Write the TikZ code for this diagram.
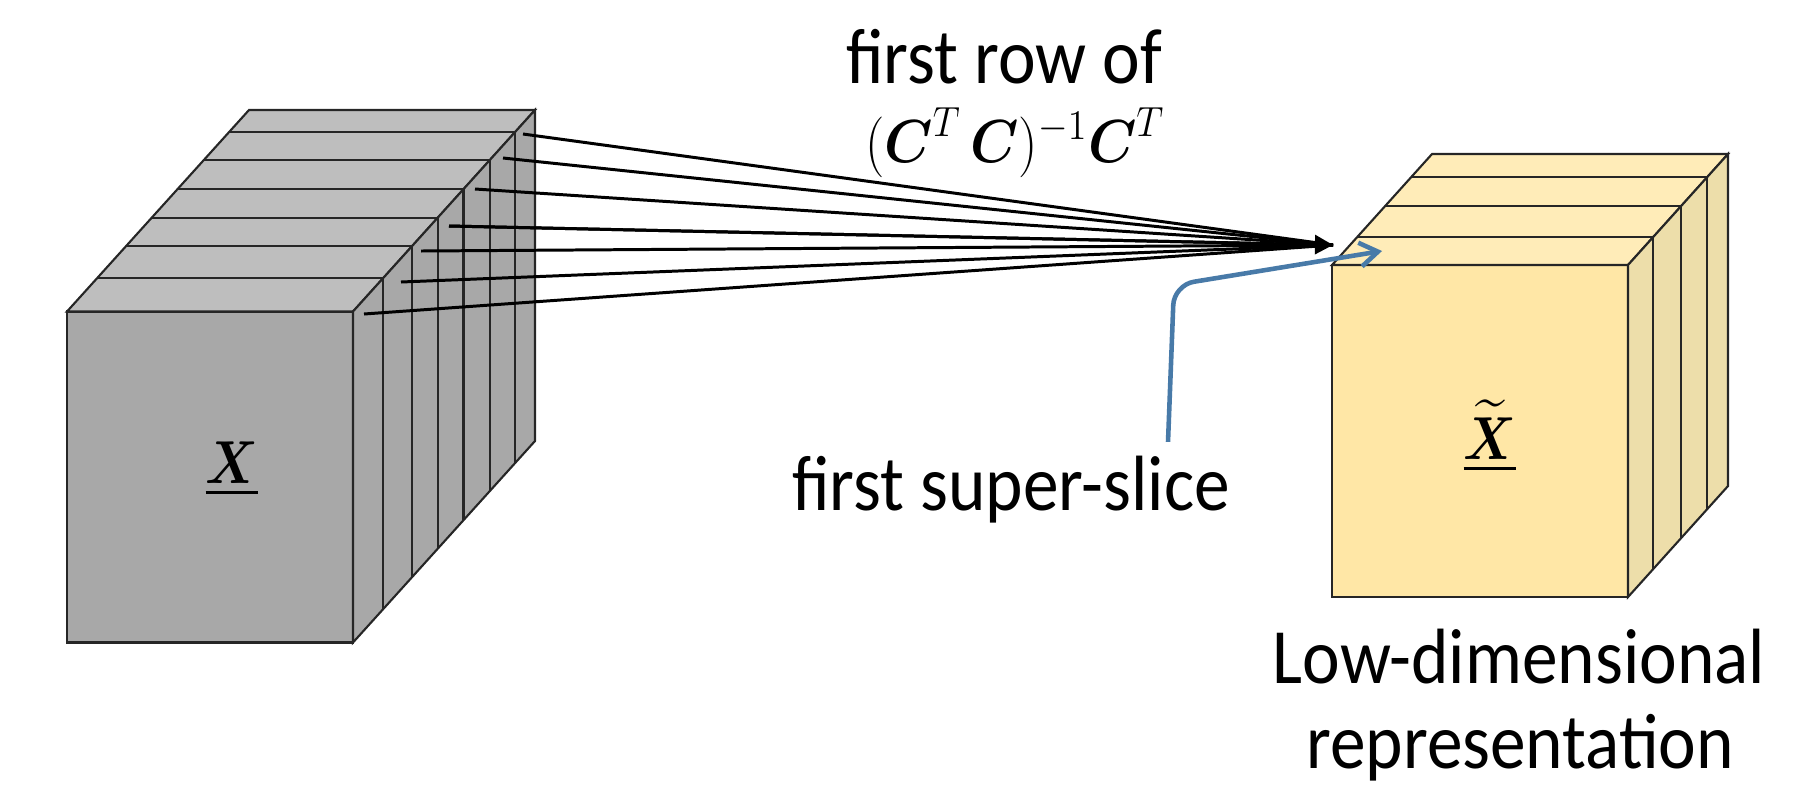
\documentclass[tikz,border=0pt]{standalone}
\usepackage{amsmath,amssymb}
\usepackage{fontspec}
\setmainfont{Carlito}[FakeStretch=0.91]
\usepackage{tikz}
\usetikzlibrary{arrows.meta,calc}
\definecolor{slabgray}{RGB}{168,168,168}
\definecolor{slabtop}{RGB}{190,190,190}
\definecolor{lowfront}{RGB}{255,231,166}
\definecolor{lowtop}{RGB}{255,236,184}
\definecolor{lowside}{RGB}{237,222,170}
\definecolor{slicearrow}{RGB}{72,122,168}
\tikzset{
  line cap=round,
  line join=round,
  face/.style={draw=black!85, line width=0.6pt},
  fanline/.style={line width=0.85pt},
  txtlbl/.style={inner sep=0pt, font=\fontsize{22.3}{24}\selectfont},
  bluearrow/.style={draw=slicearrow, line width=1.3pt, rounded corners=2mm,
    -{Straight Barb[length=1.8mm,width=2.4mm]}}
}

\begin{document}
\begin{tikzpicture}[x=0.1mm,y=-0.1mm]
  \useasboundingbox (0,0) rectangle (1818,784);

  % original tensor, 7 slices
  \filldraw[face,fill=slabgray] (67,311.5) rectangle (353,642.5);
  \filldraw[face,fill=slabtop] (67,311.5) -- (249,110) -- (535,110) -- (353,311.5) -- cycle;
  \filldraw[face,fill=slabgray] (353,311.5) -- (535,110) -- (535,441) -- (353,642.5) -- cycle;
  \foreach \t in {0.165,0.325,0.465,0.607,0.751,0.89}{
    \draw[face] (67+182*\t,311.5-201.5*\t) -- (353+182*\t,311.5-201.5*\t);
    \draw[face] (353+182*\t,311.5-201.5*\t) -- (353+182*\t,642.5-201.5*\t);
  }
  \node[font=\fontsize{17.5}{19}\selectfont] (xlbl) at (232,469)
    {\scalebox{0.85}[1]{$\underline{\boldsymbol{X}}$}};

  % low-dimensional tensor, 4 slices
  \filldraw[face,fill=lowfront] (1332,265) rectangle (1628,597);
  \filldraw[face,fill=lowtop] (1332,265) -- (1432,154) -- (1728,154) -- (1628,265) -- cycle;
  \filldraw[face,fill=lowside] (1628,265) -- (1728,154) -- (1728,486) -- (1628,597) -- cycle;
  \foreach \t in {0.25,0.53,0.79}{
    \draw[face] (1332+100*\t,265-111*\t) -- (1628+100*\t,265-111*\t);
    \draw[face] (1628+100*\t,265-111*\t) -- (1628+100*\t,597-111*\t);
  }
  \node[font=\fontsize{18}{20}\selectfont] (xtlbl) at (1490,436)
    {\scalebox{0.85}[1]{$\underline{\widetilde{\boldsymbol{X}}}$}};

  % fan of slices into one super-slice
  \coordinate (tip) at (1333,245);
  \foreach \fx/\fy [count=\k from 0] in {364/314,401/282,421/251,449/226,475/189,503/158,523/134}
    \coordinate (f\k) at (\fx,\fy);
  \foreach \k in {0,...,6}
    \draw[fanline] (f\k) -- (tip);
  \draw[fanline,-{Triangle[length=1.8mm,width=1.9mm]}] (f3) -- (tip);

  \node[txtlbl,anchor=base] (rowlbl) at (1004,83) {first row of};
  \node[txtlbl,anchor=base,font=\fontsize{18.5}{20}\selectfont] (formula) at (1015,162)
    {\scalebox{0.9}[1]{$(\boldsymbol{C}^T\,\boldsymbol{C})^{-1}\boldsymbol{C}^T$}};

  % first super-slice
  \node[txtlbl,anchor=base] (slicelbl) at (1011,510) {first super-slice};
  \coordinate (ss) at (1382,251);
  \coordinate (bend) at (1174,285);
  \draw[bluearrow] ([shift={(157,-13)}]slicelbl.north) -- (bend) -- (ss);

  \node[txtlbl,anchor=base] (lowlbl) at (1519,683) {Low-dimensional};
  \node[txtlbl,anchor=base] (replbl) at (1520,768) {representation};
\end{tikzpicture}
\end{document}
